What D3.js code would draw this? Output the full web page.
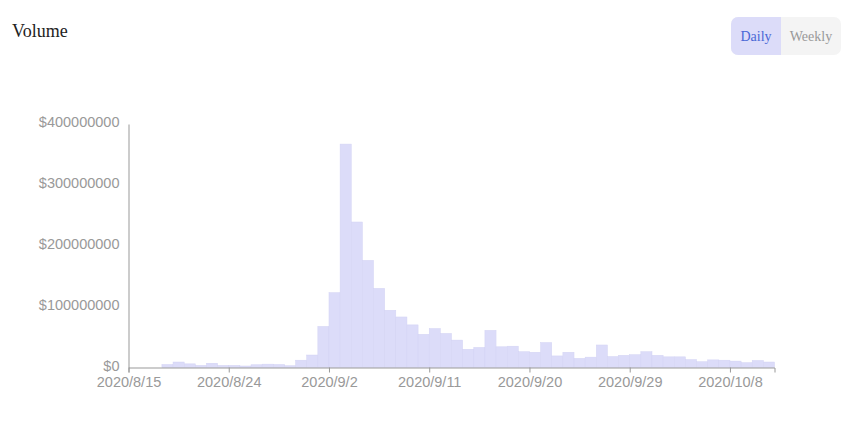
<!DOCTYPE html>
<html>
<head>
<meta charset="utf-8">
<script src="https://cdn.jsdelivr.net/npm/d3@7"></script>
<style>
  body { margin: 0; background: #fff; }
  svg { display: block; }
</style>
</head>
<body>
<script>
// daily volume, 2020/8/15 .. 2020/10/11 (millions of dollars)
var startDate = "2020-08-15";
var endDate = "2020-10-12";
var volumes = [
  0, 0, 0, 5, 9, 6, 3.5, 7, 3.5, 3.5,
  2.5, 4.5, 5.5, 5, 3, 12, 20.5, 67.5, 123, 367,
  239, 176, 130, 94, 83, 70, 54.5, 64, 56, 45,
  30, 33, 61, 34, 35, 26, 25, 41, 19, 25,
  15, 17, 37, 18, 20, 21, 26, 20, 17.5, 17.5,
  13, 9.5, 12.5, 12, 10.5, 8, 11.5, 9
];
var yTicks = [0, 100, 200, 300, 400];
var xTickDates = ["2020-08-15", "2020-08-24", "2020-09-02", "2020-09-11", "2020-09-20", "2020-09-29", "2020-10-08"];
var buttons = ["Daily", "Weekly"];

var parse = d3.utcParse("%Y-%m-%d");
var data = volumes.map(function(v, i) {
  return { date: d3.utcDay.offset(parse(startDate), i), value: v };
});

var width = 850, height = 440;
var svg = d3.select("body").append("svg").attr("width", width).attr("height", height);

var x = d3.scaleUtc().domain([parse(startDate), parse(endDate)]).range([128.5, 774.5]);
var y = d3.scaleLinear().domain([0, 400]).range([367.5, 124]);

// bars
svg.append("g").selectAll("rect")
  .data(data)
  .enter().append("rect")
  .attr("x", function(d) { return x(d.date); })
  .attr("width", function(d) { return x(d3.utcDay.offset(d.date, 1)) - x(d.date); })
  .attr("y", function(d) { return y(d.value); })
  .attr("height", function(d) { return y(0) - y(d.value); })
  .attr("fill", "#dcdcf9")
  .attr("stroke", "#d3d3f4")
  .attr("stroke-width", 0.5);

var fmt = d3.utcFormat("%Y/%-m/%-d");

var xAxis = svg.append("g")
  .attr("transform", "translate(0,367.5)")
  .call(d3.axisBottom(x)
    .tickValues(xTickDates.map(parse))
    .tickFormat(fmt)
    .tickSize(5)
    .tickSizeOuter(5)
    .tickPadding(4));

var yAxis = svg.append("g")
  .attr("transform", "translate(128.5,0)")
  .call(d3.axisLeft(y)
    .tickValues(yTicks)
    .tickFormat(function(d) { return "$" + (d * 1000000); })
    .tickSize(0)
    .tickPadding(9));

[xAxis, yAxis].forEach(function(g) {
  g.selectAll("path, line").attr("stroke", "#999");
  g.selectAll("text")
    .attr("fill", "#999")
    .style("font-family", "'Liberation Sans', Arial, sans-serif")
    .style("font-size", "14.5px");
});
yAxis.selectAll("text").attr("dy", "0.2em");

// title
svg.append("text")
  .attr("x", 12).attr("y", 37)
  .style("font-family", "'Liberation Serif', 'Times New Roman', serif")
  .style("font-size", "18px")
  .attr("fill", "#222")
  .text("Volume");

// toggle buttons
var btn = svg.append("g").attr("transform", "translate(731,17)");
btn.append("rect")
  .attr("width", 110).attr("height", 38).attr("rx", 7)
  .attr("fill", "#f4f4f4");
btn.append("clipPath").attr("id", "btnclip")
  .append("rect").attr("width", 110).attr("height", 38).attr("rx", 7);
btn.append("rect")
  .attr("clip-path", "url(#btnclip)")
  .attr("width", 50).attr("height", 38)
  .attr("fill", "#dcdcf9");
btn.selectAll("text.b")
  .data(buttons)
  .enter().append("text")
  .attr("class", "b")
  .attr("x", function(d, i) { return i === 0 ? 25 : 80; })
  .attr("y", 24)
  .attr("text-anchor", "middle")
  .style("font-family", "'Liberation Serif', 'Times New Roman', serif")
  .style("font-size", "14px")
  .attr("fill", function(d, i) { return i === 0 ? "#4a68d6" : "#999"; })
  .text(function(d) { return d; });
</script>
</body>
</html>
